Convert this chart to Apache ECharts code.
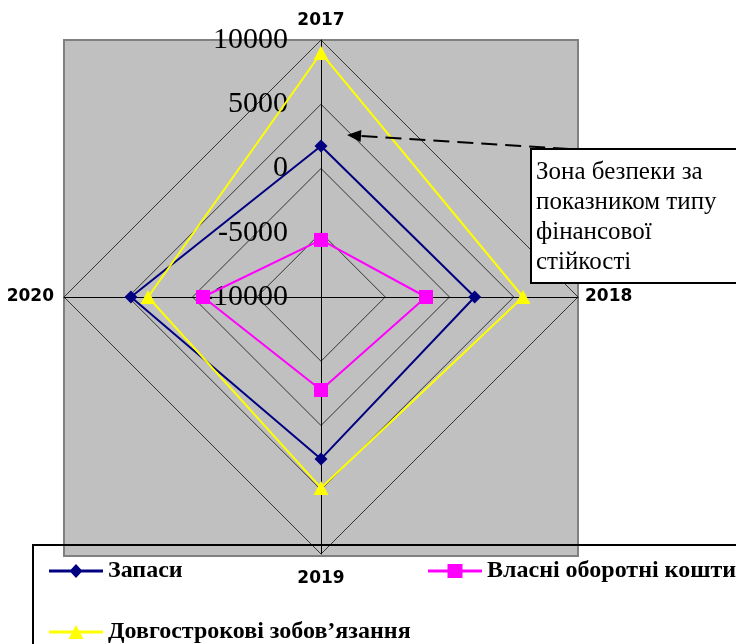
<!DOCTYPE html>
<html>
<head>
<meta charset="utf-8">
<script src="https://cdn.jsdelivr.net/npm/echarts@6/dist/echarts.min.js"></script>
<style>
  html, body { margin: 0; padding: 0; background: #fff; }
  #chart { width: 736px; height: 644px; }
</style>
</head>
<body>
<div id="chart"></div>
<script>
// Years of the radar axes, in reading order (top, right, bottom, left)
const years = ['2017', '2018', '2019', '2020'];
// Scale of every axis
const axisMin = -10000;
const axisMax = 10000;

// Series values per year (2017, 2018, 2019, 2020)
const zapasy = [1750, 1960, 2600, 4790];
const vlasniKoshty = [-5560, -1830, -2760, -820];
const dovhostrokovi = [8990, 5720, 4860, 3460];

const seriesNames = ['Запаси', 'Власні оборотні кошти', 'Довгострокові зобов’язання'];
const noteText = ['Зона безпеки за', 'показником типу', 'фінансової', 'стійкості'];

// Radar places indicators counter-clockwise, so list them as top, left, bottom, right
const radarOrder = [0, 3, 2, 1];
const reorder = arr => radarOrder.map(i => arr[i]);

const cx = 321, cy = 297, R = 257;

const indicator = radarOrder.map((i, k) => {
  const ind = { name: years[i], min: axisMin, max: axisMax };
  if (k === 0) ind.axisLabel = { show: true };
  return ind;
});

const chart = echarts.init(document.getElementById('chart'), null, { renderer: 'canvas' });

const lineIcon = 'M0,5.5L54,5.5L54,8.5L0,8.5Z';
const icons = [
  'path://' + lineIcon + 'M27,0L33.5,7L27,14L20.5,7Z',
  'path://' + lineIcon + 'M19.5,0L34.5,0L34.5,14L19.5,14Z',
  'path://' + lineIcon + 'M27,0L34.5,14L19.5,14Z'
];
const colors = ['#000080', '#FF00FF', '#FFFF00'];
const symbols = ['diamond', 'rect', 'triangle'];
const symbolSizes = [13, 14, [15, 14]];
const values = [zapasy, vlasniKoshty, dovhostrokovi];

const legendFont = {
  fontFamily: 'Liberation Serif', fontWeight: 'bold', fontSize: 24, color: '#000'
};
const legendPos = [[49, 559], [428, 559], [49, 620]];

const nameStyle = { fontFamily: 'DejaVu Sans', fontWeight: 'bold', fontSize: 17, color: '#000' };

const option = {
  backgroundColor: '#fff',
  animation: false,
  legend: seriesNames.map((n, k) => ({
    data: [{ name: n, icon: icons[k], itemStyle: { color: colors[k], borderWidth: 0 } }],
    left: legendPos[k][0],
    top: legendPos[k][1],
    padding: 0,
    itemWidth: 54,
    itemHeight: 14,
    itemGap: 5,
    textStyle: legendFont,
    selectedMode: false
  })),
  radar: {
    center: [cx, cy],
    radius: R,
    startAngle: 90,
    splitNumber: 4,
    shape: 'polygon',
    nameGap: 7,
    axisName: Object.assign({}, nameStyle, {
      formatter: name => '{y' + name + '|' + name + '}',
      rich: {
        y2017: Object.assign({ padding: [0, 0, 4, 0] }, nameStyle),
        y2018: Object.assign({ padding: [0, 0, 0, 0] }, nameStyle),
        y2019: Object.assign({ padding: [9, 0, 0, 0] }, nameStyle),
        y2020: Object.assign({ padding: [0, 3, 0, 0] }, nameStyle)
      }
    }),
    axisLine: { show: true, lineStyle: { color: '#000', width: 1 } },
    axisTick: { show: false },
    axisLabel: {
      show: false,
      fontFamily: 'Liberation Serif',
      fontSize: 30,
      color: '#000',
      margin: 33,
      formatter: v => String(v)
    },
    splitLine: { show: true, lineStyle: { color: '#333', width: 1 } },
    splitArea: { show: false },
    indicator: indicator
  },
  series: seriesNames.map((n, k) => ({
    type: 'radar',
    name: n,
    z: 2 + k,
    symbol: symbols[k],
    symbolSize: symbolSizes[k],
    itemStyle: { color: colors[k] },
    lineStyle: { color: colors[k], width: 2 },
    data: [{ name: n, value: reorder(values[k]) }]
  })),
  graphic: [
    {
      type: 'rect', z: -10, silent: true,
      shape: { x: cx - R, y: cy - R, width: 2 * R, height: 2 * R + 2 },
      style: { fill: '#C0C0C0', stroke: '#808080', lineWidth: 2 }
    },
    {
      type: 'rect', z: 50, silent: true,
      shape: { x: 33, y: 545, width: 800, height: 200 },
      style: { fill: null, stroke: '#000', lineWidth: 2 }
    },
    {
      type: 'polyline', z: 50, silent: true,
      shape: { points: [[617, 152], [358, 135.8]] },
      style: { stroke: '#000', lineWidth: 2, lineDash: [16, 8], fill: null }
    },
    {
      type: 'polygon', z: 50, silent: true,
      shape: { points: [[347, 135], [361.4, 129.9], [360.6, 141.9]] },
      style: { fill: '#000' }
    },
    {
      type: 'rect', z: 50, silent: true,
      shape: { x: 531, y: 149, width: 220, height: 134 },
      style: { fill: '#fff', stroke: '#000', lineWidth: 2 }
    },
    {
      type: 'text', z: 51, silent: true,
      x: 536, y: 157,
      style: {
        text: noteText.join('\n'),
        font: '25px "Liberation Serif"',
        lineHeight: 30,
        fill: '#000'
      }
    }
  ]
};

chart.setOption(option);
</script>
</body>
</html>
